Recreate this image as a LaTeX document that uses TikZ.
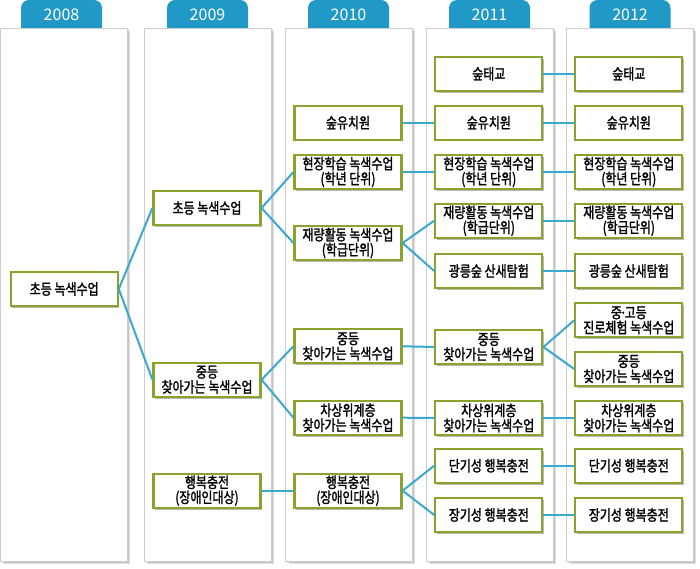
\documentclass[tikz,border=0pt]{standalone}
\usepackage{fontspec}
\setmainfont{Noto Sans CJK KR}[FakeBold=1.6,FakeStretch=0.8]
\newfontfamily\tabfont{Noto Sans CJK KR}
\usetikzlibrary{shadows}
\definecolor{tabblue}{RGB}{33,153,199}
\definecolor{linkblue}{RGB}{58,168,207}
\definecolor{boxgreen}{RGB}{136,164,44}
\definecolor{panelline}{RGB}{205,205,205}
\tikzset{
  box/.style={draw=boxgreen, line width=2.2pt, fill=white, minimum width=107pt, minimum height=34pt,
    inner sep=0pt, align=center, font=\fontsize{15}{15}\selectfont,
    drop shadow={shadow xshift=1.5pt, shadow yshift=-1.8pt, fill=black, opacity=0.28}},
  link/.style={draw=linkblue, line width=2pt},
  panel/.style={draw=panelline, line width=0.8pt, fill=white},
  panelshadow/.style={fill=black, opacity=0.12},
  tabshape/.style={fill=tabblue, rounded corners=8pt},
  tablabel/.style={text=white, font=\tabfont\fontsize{16}{16}\selectfont, inner sep=0pt}
}
\begin{document}
\begin{tikzpicture}[x=1pt,y=-1pt]
\useasboundingbox (0,0) rectangle (700,569);
% tabs
\foreach \c/\yr in {61.5/2008,207.5/2009,348.5/2010,489.5/2011,630/2012}{
  \fill[tabshape] (\c-40.5,40) rectangle (\c+40.5,0);
}
% panels
\foreach \xa in {0.5,144.5,285.5,426.5,566.5}{
  \fill[panelshadow] (\xa+3,31) rectangle (\xa+129.5,564);
  \fill[panelshadow] (\xa+1.5,29.5) rectangle (\xa+128,562.5);
  \draw[panel] (\xa,28) rectangle (\xa+126.5,561);
}
\node[tablabel] (t1) at (61.5,15) {2008};
\node[tablabel] (t2) at (207.5,15) {2009};
\node[tablabel] (t3) at (348.5,15) {2010};
\node[tablabel] (t4) at (489.5,15) {2011};
\node[tablabel] (t5) at (630,15) {2012};
% column 1
\node[box] (a1) at (64.2,289) {초등 녹색수업};
% column 2
\node[box] (b1) at (207,208) {초등 녹색수업};
\node[box] (b2) at (207,379.7) {중등\\찾아가는 녹색수업};
\node[box] (b3) at (207,490.7) {행복충전\\(장애인대상)};
% column 3
\node[box] (c1) at (348,122.7) {숲유치원};
\node[box] (c2) at (348,172) {현장학습 녹색수업\\(학년 단위)};
\node[box] (c3) at (348,243) {재량활동 녹색수업\\(학급단위)};
\node[box] (c4) at (348,346.3) {중등\\찾아가는 녹색수업};
\node[box] (c5) at (348,417.7) {차상위계층\\찾아가는 녹색수업};
\node[box] (c6) at (348,490.7) {행복충전\\(장애인대상)};
% column 4
\node[box] (d0) at (488.8,73.8) {숲태교};
\node[box] (d1) at (488.8,122.7) {숲유치원};
\node[box] (d2) at (488.8,172) {현장학습 녹색수업\\(학년 단위)};
\node[box] (d3) at (488.8,220.7) {재량활동 녹색수업\\(학급단위)};
\node[box] (d4) at (488.8,271) {광릉숲 산새탐험};
\node[box] (d5) at (488.8,347) {중등\\찾아가는 녹색수업};
\node[box] (d6) at (488.8,418) {차상위계층\\찾아가는 녹색수업};
\node[box] (d7) at (488.8,465.7) {단기성 행복충전};
\node[box] (d8) at (488.8,515) {장기성 행복충전};
% column 5
\node[box] (e0) at (628.8,73.8) {숲태교};
\node[box] (e1) at (628.8,122.7) {숲유치원};
\node[box] (e2) at (628.8,172) {현장학습 녹색수업\\(학년 단위)};
\node[box] (e3) at (628.8,220.7) {재량활동 녹색수업\\(학급단위)};
\node[box] (e4) at (628.8,271) {광릉숲 산새탐험};
\node[box] (e5) at (628.8,320.3) {중\kern-2pt·\kern-2pt고등\\진로체험 녹색수업};
\node[box] (e6) at (628.8,369) {중등\\찾아가는 녹색수업};
\node[box] (e7) at (628.8,418) {차상위계층\\찾아가는 녹색수업};
\node[box] (e8) at (628.8,465.7) {단기성 행복충전};
\node[box] (e9) at (628.8,515) {장기성 행복충전};
% connectors
\draw[link] (a1.east) -- (b1.west);
\draw[link] (a1.east) -- (b2.west);
\draw[link] (b1.east) -- (c2.west);
\draw[link] (b1.east) -- (c3.west);
\draw[link] (b2.east) -- (c4.west);
\draw[link] (b2.east) -- (c5.west);
\draw[link] (b3.east) -- (c6.west);
\draw[link] (c1.east) -- (d1.west);
\draw[link] (c2.east) -- (d2.west);
\draw[link] (c3.east) -- (d3.west);
\draw[link] (c3.east) -- (d4.west);
\draw[link] (c4.east) -- (d5.west);
\draw[link] (c5.east) -- (d6.west);
\draw[link] (c6.east) -- (d7.west);
\draw[link] (c6.east) -- (d8.west);
\draw[link] (d0.east) -- (e0.west);
\draw[link] (d1.east) -- (e1.west);
\draw[link] (d2.east) -- (e2.west);
\draw[link] (d3.east) -- (e3.west);
\draw[link] (d4.east) -- (e4.west);
\draw[link] (d5.east) -- (e5.west);
\draw[link] (d5.east) -- (e6.west);
\draw[link] (d6.east) -- (e7.west);
\draw[link] (d7.east) -- (e8.west);
\draw[link] (d8.east) -- (e9.west);
\end{tikzpicture}
\end{document}
